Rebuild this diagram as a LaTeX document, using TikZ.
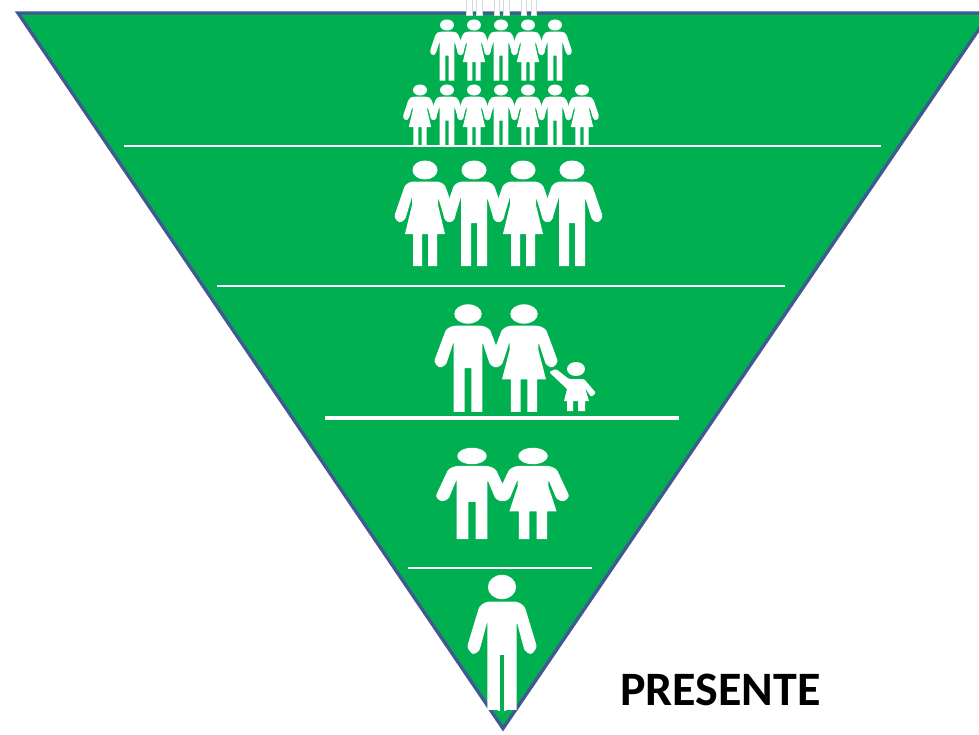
\documentclass[tikz,border=0pt]{standalone}
\usepackage{fontspec}
\setmainfont{Carlito}

\tikzset{
	tier/.style = {color = white, line width = 1.2pt},
	stub/.style = {fill = white, draw = black!15, line width = 0.5pt},
	row/.style = {xscale = 0.56, yscale = 0.58},
	man/.pic = {
		\fill[white] (0,0) ellipse [x radius = 12.5, y radius = 9.5];
		\fill[white] (-13,96) -- (-13,27) [rounded corners = 2pt] -- (-20,50) -- (-26,53) -- (-31,47) -- (-20,15) -- (-14,11.5) -- (14,11.5) -- (20,15) -- (31,47) -- (26,53) -- (20,50) -- (13,27) [sharp corners] -- (13,96) -- (3,96) -- (3,53) -- (-3,53) -- (-3,96) -- cycle;
	},
	woman/.pic = {
		\fill[white] (0,0) ellipse [x radius = 12.5, y radius = 9.5];
		\fill[white] (-12,96) -- (-12,64) -- (-20,64) -- (-13,35) -- (-13,27) [rounded corners = 2pt] -- (-20,50) -- (-26,53) -- (-31,47) -- (-20,15) -- (-14,11.5) -- (14,11.5) -- (20,15) -- (31,47) -- (26,53) -- (20,50) -- (13,27) [sharp corners] -- (13,35) -- (20,64) -- (12,64) -- (12,96) -- (3,96) -- (3,64) -- (-3,64) -- (-3,96) -- cycle;
	},
	child/.pic = {
		\fill[white] (0,0) ellipse [x radius = 9, y radius = 7];
		\fill[white] (-9,42) -- (-9,32) -- (-12,32) -- (-9,20) [rounded corners = 1pt] -- (-27,3) -- (-20,0) -- (-7,10) -- (8,10) -- (20,24) -- (15,28) -- (9,19) [sharp corners] -- (13,32) -- (9,32) -- (9,42) -- (2,42) -- (2,32) -- (-3,32) -- (-3,42) -- cycle;
	},
}

\begin{document}
\begin{tikzpicture}[x = 0.75pt, y = -0.75pt]
	\useasboundingbox (0,0) rectangle (979,735);
	\clip (0,0) rectangle (979,735);
	\draw[fill = {rgb,255:red,0;green,176;blue,80}, draw = {rgb,255:red,65;green,89;blue,145}, line width = 2.5pt] (18,13) -- (990,13) -- (503,728.5) -- cycle;

	% cut off legs at the top
	\foreach \x/\w in {466/6, 476/6, 494/5, 503/6, 521/5, 531/5}
		\filldraw[stub] (\x,-2) rectangle ++(\w,17);

	\foreach \x/\who in {447/man, 474/woman, 501/man, 528/woman, 555/man}
		\pic[row] at (\x,25) {\who};
	\foreach \x/\who in {420/woman, 447/man, 474/woman, 501/man, 528/woman, 555/man, 582/woman}
		\pic[row] at (\x,90) {\who};
	\foreach \x/\who in {425/woman, 474/man, 523/woman, 572/man}
		\pic at (\x,170) {\who};

	\pic[xscale = 1.1, yscale = 1.02] at (468,314) {man};
	\pic[xscale = 1.1, yscale = 1.02] at (524,314) {woman};
	\pic at (576,369) {child};

	\pic[xscale = 1.18, yscale = 0.865] at (472,456) {man};
	\pic[xscale = 1.18, yscale = 0.865] at (533,456) {woman};

	\pic[xscale = 1.13, yscale = 1.28] at (502,587) {man};
	% narrower gap between the legs
	\fill[white] (498,650) rectangle (500,711);
	\fill[white] (503.5,650) rectangle (506,711);

	\draw[tier] (124,146) -- (881,146);
	\draw[tier] (217,286) -- (785,286);
	\draw[tier, line width = 2.6pt] (325,418) -- (679,418);
	\draw[tier] (408,568) -- (592,568);

	\node[font = \bfseries, scale = 3.6] (PRES) at (720.5,690) {PRESENTE};
\end{tikzpicture}
\end{document}
